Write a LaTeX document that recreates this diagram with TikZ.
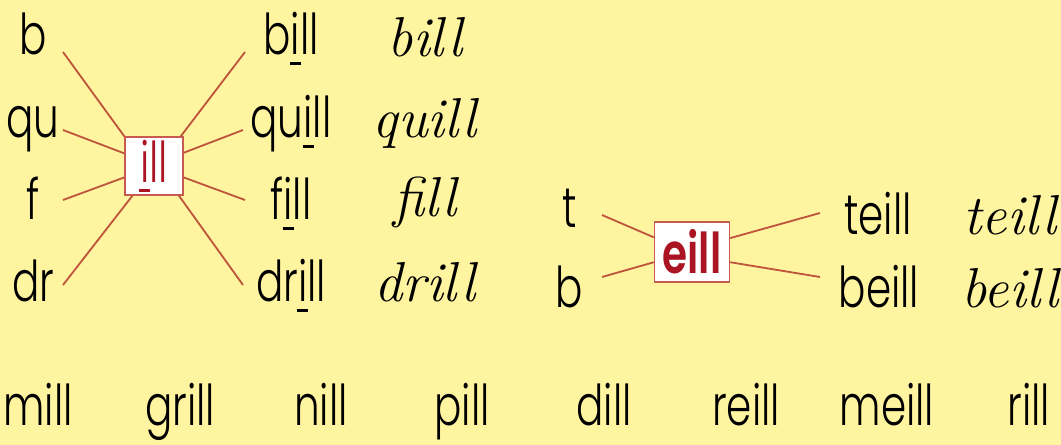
\documentclass[tikz,border=0pt]{standalone}
\usepackage{fontspec}
\newfontfamily\gothic{Poppins Light}[FakeStretch=0.72, BoldFont=Poppins SemiBold]
\usetikzlibrary{positioning}

\definecolor{pageyellow}{RGB}{255,245,160}
\definecolor{linkred}{RGB}{190,85,60}
\definecolor{boxred}{RGB}{200,90,80}
\definecolor{soundred}{RGB}{170,20,35}

% i with the short bar under it
\newcommand{\ulI}{\ooalign{i\cr\hidewidth\rule[-7pt]{8pt}{2pt}\hidewidth\cr}}

\begin{document}
\begin{tikzpicture}[
    x=0.025cm, y=-0.025cm,
    word/.style={font=\gothic\fontsize{40}{44}\selectfont, anchor=base, inner sep=0pt},
    script/.style={font=\fontsize{40}{44}\selectfont\itshape, anchor=base, inner sep=0pt},
    soundbox/.style={draw=boxred, fill=white, line width=1pt, inner sep=0pt, text=soundred,
        font=\gothic\fontsize{40}{44}\selectfont},
    link/.style={draw=linkred, line width=1.3pt},
]

\fill[pageyellow] (0,0) rectangle (1061,445);
\useasboundingbox (0,0) rectangle (1061,445);

% ---- Left: ill ----
\node[soundbox, minimum width=1.45cm, minimum height=1.45cm] (ill) at (154,166) {\ulI ll};

\node[word] (b) at (33,55) {b};
\node[word] (qu) at (33,138) {qu};
\node[word] (f) at (33,220) {f};
\node[word] (dr) at (33,302) {dr};

\node[word] (bill) at (291,55) {b\ulI ll};
\node[word] (quill) at (291,138) {qu\ulI ll};
\node[word] (fill) at (291,220) {f\ulI ll};
\node[word] (drill) at (291,302) {dr\ulI ll};

\node[script] (billc) at (425,57) {bill};
\node[script] (quillc) at (425,138) {quill};
\node[script] (fillc) at (425,217) {fill};
\node[script] (drillc) at (425,302) {drill};

\draw[link] ([shift={(30,-3)}]b.base) -- (ill.135);
\draw[link] ([shift={(30,-8)}]qu.base) -- (ill.157);
\draw[link] ([shift={(30,-20)}]f.base) -- (ill.201);
\draw[link] ([shift={(30,-17)}]dr.base) -- (ill.234);
\draw[link] (ill.48) -- ([shift={(-46,-3)}]bill.base);
\draw[link] (ill.24) -- ([shift={(-48,-8)}]quill.base);
\draw[link] (ill.339) -- ([shift={(-46,-20)}]fill.base);
\draw[link] (ill.310) -- ([shift={(-48,-17)}]drill.base);

% ---- Right: eill ----
\node[soundbox, font=\gothic\bfseries\fontsize{40}{44}\selectfont, minimum width=1.875cm, minimum height=1.5cm] (eill) at (692,252) {eill};

\node[word] (t) at (570,228) {t};
\node[word] (b2) at (569,308) {b};
\node[word] (teill) at (878,235) {teill};
\node[word] (beill) at (879,308) {beill};
\node[script] (teillc) at (1010,235) {teill};
\node[script] (beillc) at (1010,308) {beill};

\draw[link] ([shift={(32,-13)}]t.base) -- (eill.159);
\draw[link] ([shift={(33,-31)}]b2.base) -- (eill.195);
\draw[link] (eill.20) -- ([shift={(-58,-22)}]teill.base);
\draw[link] (eill.345) -- ([shift={(-59,-31)}]beill.base);

% ---- Bottom row ----
\node[word] (mill) at (38,426) {mill};
\node[word] (grill) at (180,426) {grill};
\node[word] (nill) at (321,426) {nill};
\node[word] (pill) at (462,426) {pill};
\node[word] (dill) at (604,426) {dill};
\node[word] (reill) at (746,426) {reill};
\node[word] (meill) at (887,426) {meill};
\node[word] (rill) at (1029,426) {rill};

\end{tikzpicture}
\end{document}
